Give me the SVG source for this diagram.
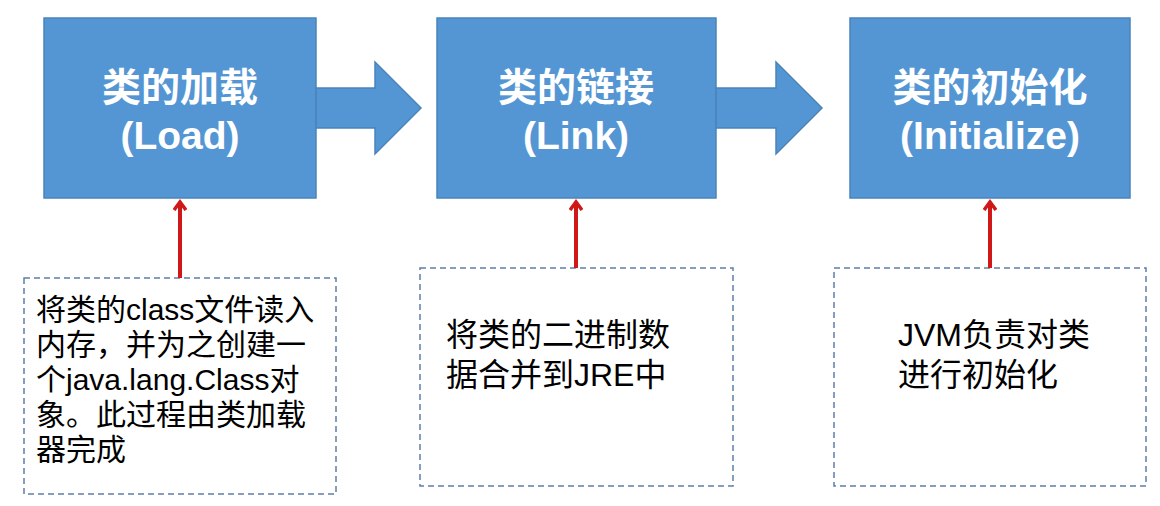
<svg xmlns="http://www.w3.org/2000/svg" width="1160" height="506" viewBox="0 0 1160 506">
<style>
.box{fill:#5496d3;stroke:#4a84bb;stroke-width:1.5}
.t{fill:#fff;font-family:"Liberation Sans","Noto Sans CJK SC",sans-serif;font-size:39px;font-weight:bold;text-anchor:middle}
.d{fill:#fff;stroke:#5e7fa8;stroke-width:1.5;stroke-dasharray:6,4}
.b{fill:#000;font-family:"Liberation Sans","Noto Sans CJK SC",sans-serif;font-size:30px}
.c{fill:#000;font-family:"Liberation Sans","Noto Sans CJK SC",sans-serif;font-size:32px}
.r{stroke:#d01818;stroke-width:4;fill:none}
</style>
<defs><marker id="ah" markerWidth="14" markerHeight="14" refX="8" refY="7" orient="auto" markerUnits="userSpaceOnUse"><path d="M1,1 L9,7 L1,13" fill="none" stroke="#d01818" stroke-width="3.5"/></marker></defs>
<rect width="1160" height="506" fill="#fff"/>
<g id="load"><rect class="box" x="44" y="18" width="272" height="180"/><text class="t" x="180" y="101">类的加载</text><text class="t" x="180" y="149">(Load)</text></g>
<g id="link"><rect class="box" x="437" y="18" width="279" height="180"/><text class="t" x="576" y="101">类的链接</text><text class="t" x="576" y="149">(Link)</text></g>
<g id="init"><rect class="box" x="850" y="18" width="280" height="180"/><text class="t" x="990" y="101">类的初始化</text><text class="t" x="990" y="149">(Initialize)</text></g>
<g id="n1"><rect class="d" x="24" y="278" width="312" height="216"/><text class="b" x="36" y="320">将类的class文件读入</text><text class="b" x="36" y="355">内存，并为之创建一</text><text class="b" x="36" y="390">个java.lang.Class对</text><text class="b" x="36" y="425">象。此过程由类加载</text><text class="b" x="36" y="460">器完成</text></g>
<g id="n2"><rect class="d" x="420" y="268" width="313" height="218"/><text class="c" x="446" y="346">将类的二进制数</text><text class="c" x="446" y="386">据合并到JRE中</text></g>
<g id="n3"><rect class="d" x="834" y="268" width="312" height="218"/><text class="c" x="898" y="346">JVM负责对类</text><text class="c" x="898" y="386">进行初始化</text></g>
<g id="connectors">
<path class="box" d="M316,88 H375 V62 L421,108 L375,154 V128 H316 Z"/>
<path class="box" d="M716,88 H776 V62 L822,108 L776,154 V128 H716 Z"/>
<line class="r" x1="180" y1="278" x2="180" y2="203" marker-end="url(#ah)"/>
<line class="r" x1="576" y1="268" x2="576" y2="203" marker-end="url(#ah)"/>
<line class="r" x1="990" y1="268" x2="990" y2="203" marker-end="url(#ah)"/>
</g>
</svg>
